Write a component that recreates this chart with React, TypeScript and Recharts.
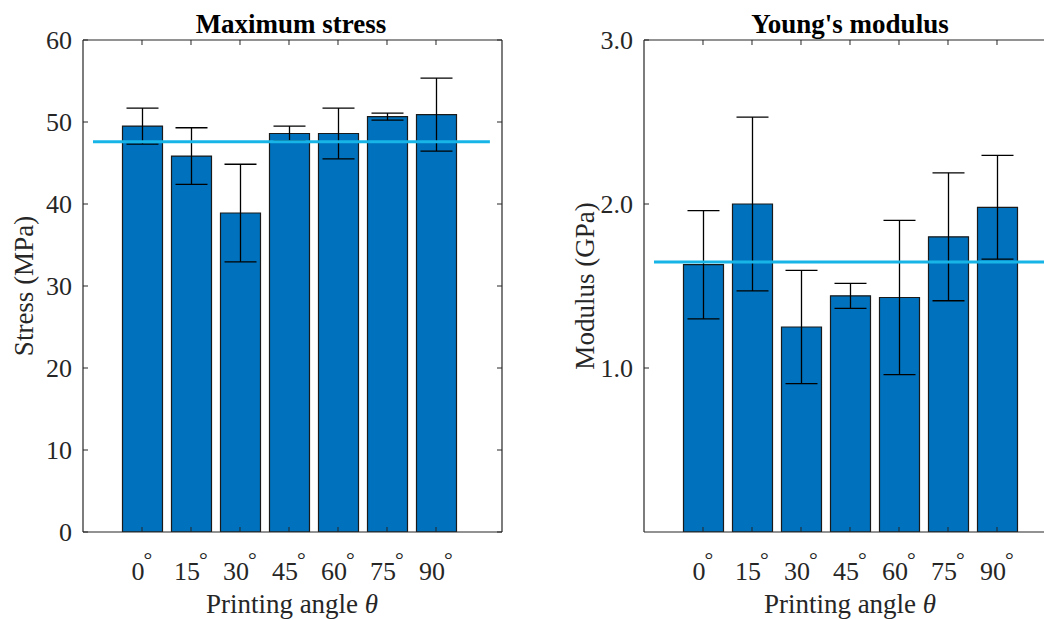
import React from "react";
import { BarChart, Bar, XAxis, YAxis, ErrorBar, ReferenceLine } from "recharts";

// printing angles (degrees) and their bar positions on the x axis
const angles = [0, 15, 30, 45, 60, 75, 90];
const positions = [1, 2, 3, 4, 5, 6, 7];

// maximum stress (MPa)
const stressMean = [49.5, 45.85, 38.9, 48.6, 48.6, 50.65, 50.9];
const stressErr = [2.2, 3.45, 5.95, 0.9, 3.1, 0.43, 4.45];
const stressAvg = 47.6;
const stressTicks = [0, 10, 20, 30, 40, 50, 60];

// young's modulus (GPa)
const modulusMean = [1.63, 2.0, 1.25, 1.44, 1.43, 1.8, 1.98];
const modulusErr = [0.33, 0.53, 0.345, 0.076, 0.47, 0.39, 0.316];
const modulusAvg = 1.646;
const modulusTicks = [1, 2, 3];

const FONT = "'Liberation Serif', 'Times New Roman', serif";
const AXIS = "#262626";
const xDomain: [number, number] = [-0.204, 8.347];

const BottomTick = ({ x, y, payload }: any) => {
  const i = positions.indexOf(payload.value);
  return (
    <g>
      <line x1={x} x2={x} y1={y} y2={y - 5} stroke={AXIS} strokeWidth={1} />
      <text x={x} y={y + 48} textAnchor="middle" fontFamily={FONT} fontSize={26} fill={AXIS}>
        {angles[i]}
        <tspan fontSize={22} dx={-1} dy={-13}>°</tspan>
      </text>
    </g>
  );
};

const TopTick = ({ x, y }: any) => (
  <line x1={x} x2={x} y1={y} y2={y + 5} stroke={AXIS} strokeWidth={1} />
);

const makeLeftTick = (fmt: (v: number) => string) => ({ x, y, payload }: any) => (
  <g>
    <line x1={x} x2={x + 5} y1={y} y2={y} stroke={AXIS} strokeWidth={1} />
    <text x={x - 11} y={y + 9} textAnchor="end" fontFamily={FONT} fontSize={26} fill={AXIS}>
      {fmt(payload.value)}
    </text>
  </g>
);

const RightTick = ({ x, y }: any) => (
  <line x1={x} x2={x - 5} y1={y} y2={y} stroke={AXIS} strokeWidth={1} />
);

interface PanelProps {
  means: number[];
  errs: number[];
  avg: number;
  yMax: number;
  yTicks: number[];
  fmt: (v: number) => string;
  left: number;
  width: number;
}

function Panel({ means, errs, avg, yMax, yTicks, fmt, left, width }: PanelProps) {
  const data = positions.map((p, i) => ({ pos: p, value: means[i], err: errs[i] }));
  return (
    <div style={{ position: "absolute", left, top: 0 }}>
      <BarChart width={width} height={619} data={data} margin={{ top: 10, right: 0, bottom: 0, left: 0 }}>
        <XAxis
          xAxisId="bottom"
          dataKey="pos"
          type="number"
          domain={xDomain}
          allowDataOverflow
          ticks={positions}
          interval={0}
          height={87}
          tickSize={0}
          tickMargin={0}
          tickLine={false}
          axisLine={{ stroke: AXIS, strokeWidth: 1.2 }}
          tick={<BottomTick />}
        />
        <XAxis
          xAxisId="top"
          dataKey="pos"
          type="number"
          orientation="top"
          domain={xDomain}
          allowDataOverflow
          ticks={positions}
          interval={0}
          height={30}
          tickSize={0}
          tickMargin={0}
          tickLine={false}
          axisLine={{ stroke: AXIS, strokeWidth: 1.2 }}
          tick={<TopTick />}
        />
        <YAxis
          yAxisId="left"
          type="number"
          domain={[0, yMax]}
          allowDataOverflow
          ticks={yTicks}
          interval={0}
          width={84}
          tickSize={0}
          tickMargin={0}
          tickLine={false}
          axisLine={{ stroke: AXIS, strokeWidth: 1.2 }}
          tick={makeLeftTick(fmt)}
        />
        <YAxis
          yAxisId="right"
          orientation="right"
          type="number"
          domain={[0, yMax]}
          allowDataOverflow
          ticks={yTicks}
          interval={0}
          width={20}
          tickSize={0}
          tickMargin={0}
          tickLine={false}
          axisLine={{ stroke: AXIS, strokeWidth: 1.2 }}
          tick={<RightTick />}
        />
        <Bar
          xAxisId="bottom"
          yAxisId="left"
          dataKey="value"
          barSize={40}
          fill="#0072BD"
          stroke="#1a1a1a"
          strokeWidth={1.2}
          isAnimationActive={false}
        >
          <ErrorBar dataKey="err" width={16} stroke="#000" strokeWidth={1.3} direction="y" />
        </Bar>
        <ReferenceLine
          xAxisId="bottom"
          yAxisId="left"
          segment={[{ x: 0, y: avg }, { x: 8.1, y: avg }]}
          stroke="#17B4E8"
          strokeWidth={3}
        />
      </BarChart>
    </div>
  );
}

export default function App() {
  return (
    <div
      style={{
        position: "absolute",
        left: 0,
        top: 0,
        width: 1044,
        height: 619,
        overflow: "hidden",
        background: "#fff",
      }}
    >
      <Panel
        means={stressMean}
        errs={stressErr}
        avg={stressAvg}
        yMax={60}
        yTicks={stressTicks}
        fmt={(v) => String(v)}
        left={-1}
        width={523}
      />
      <Panel
        means={modulusMean}
        errs={modulusErr}
        avg={modulusAvg}
        yMax={3}
        yTicks={modulusTicks}
        fmt={(v) => v.toFixed(1)}
        left={560}
        width={523}
      />
      <svg
        width={1044}
        height={619}
        style={{ position: "absolute", left: 0, top: 0, pointerEvents: "none" }}
        fontFamily={FONT}
      >
        <text x={291} y={33} textAnchor="middle" fontSize={27} fontWeight="bold" fill="#000">
          Maximum stress
        </text>
        <text x={850} y={33} textAnchor="middle" fontSize={27} fontWeight="bold" fill="#000">
          Young's modulus
        </text>
        <text x={292} y={613} textAnchor="middle" fontSize={27} fill={AXIS}>
          Printing angle <tspan fontStyle="italic">θ</tspan>
        </text>
        <text x={850} y={613} textAnchor="middle" fontSize={27} fill={AXIS}>
          Printing angle <tspan fontStyle="italic">θ</tspan>
        </text>
        <text x={33} y={286} textAnchor="middle" fontSize={27} fill={AXIS} transform="rotate(-90 33 286)">
          Stress (MPa)
        </text>
        <text x={594} y={286} textAnchor="middle" fontSize={27} fill={AXIS} transform="rotate(-90 594 286)">
          Modulus (GPa)
        </text>
      </svg>
    </div>
  );
}
